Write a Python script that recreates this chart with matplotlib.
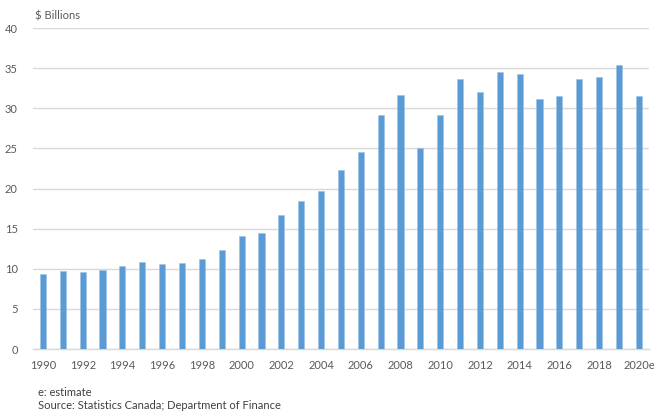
import numpy as np
import matplotlib.pyplot as plt

years = [str(y) for y in range(1990, 2020)] + ['2020e']
values = [9.3, 9.7, 9.65, 9.9, 10.35, 10.8, 10.6, 10.7, 11.2, 12.3,
          14.1, 14.4, 16.7, 18.4, 19.65, 22.3, 24.6, 29.1, 31.6, 25.0,
          29.1, 33.6, 32.05, 34.5, 34.3, 31.15, 31.5, 33.7, 33.95, 35.35,
          31.5]
y_ticks = [0, 5, 10, 15, 20, 25, 30, 35, 40]

plt.rcParams['font.family'] = ['Lato', 'DejaVu Sans']
text_col = '#595959'

fig = plt.figure(figsize=(6.54, 4.15), dpi=100)
ax = fig.add_axes([0.0505, 0.159, 0.9415, 0.7735])

x = np.arange(len(years))
ax.bar(x, values, width=0.31, color='#5B9BD5', edgecolor='#9DC3E6',
       linewidth=0.4, zorder=3)

ax.set_xlim(-0.5, len(years) - 0.5)
ax.set_ylim(0, 40)
ax.set_yticks(y_ticks)
ax.set_xticks(x[::2])
ax.set_xticklabels(years[::2])
ax.grid(axis='y', color='#D9D9D9', linewidth=1.0, zorder=0)
for s in ['top', 'right', 'left']:
    ax.spines[s].set_visible(False)
ax.spines['bottom'].set_color('#D9D9D9')
ax.spines['bottom'].set_linewidth(1.0)
ax.tick_params(axis='both', length=0, labelsize=8, colors=text_col)
ax.tick_params(axis='y', pad=11)
ax.tick_params(axis='x', pad=8)

fig.text(35 / 654, 1 - 16 / 415, '$ Billions', fontsize=8, color=text_col,
         va='center', ha='left')
fig.text(38 / 654, 1 - 392 / 415, 'e: estimate', fontsize=8, color='#404040',
         va='center', ha='left')
fig.text(38 / 654, 1 - 405 / 415, 'Source: Statistics Canada; Department of Finance',
         fontsize=8, color='#404040', va='center', ha='left')

fig.savefig('out.png', dpi=100)
